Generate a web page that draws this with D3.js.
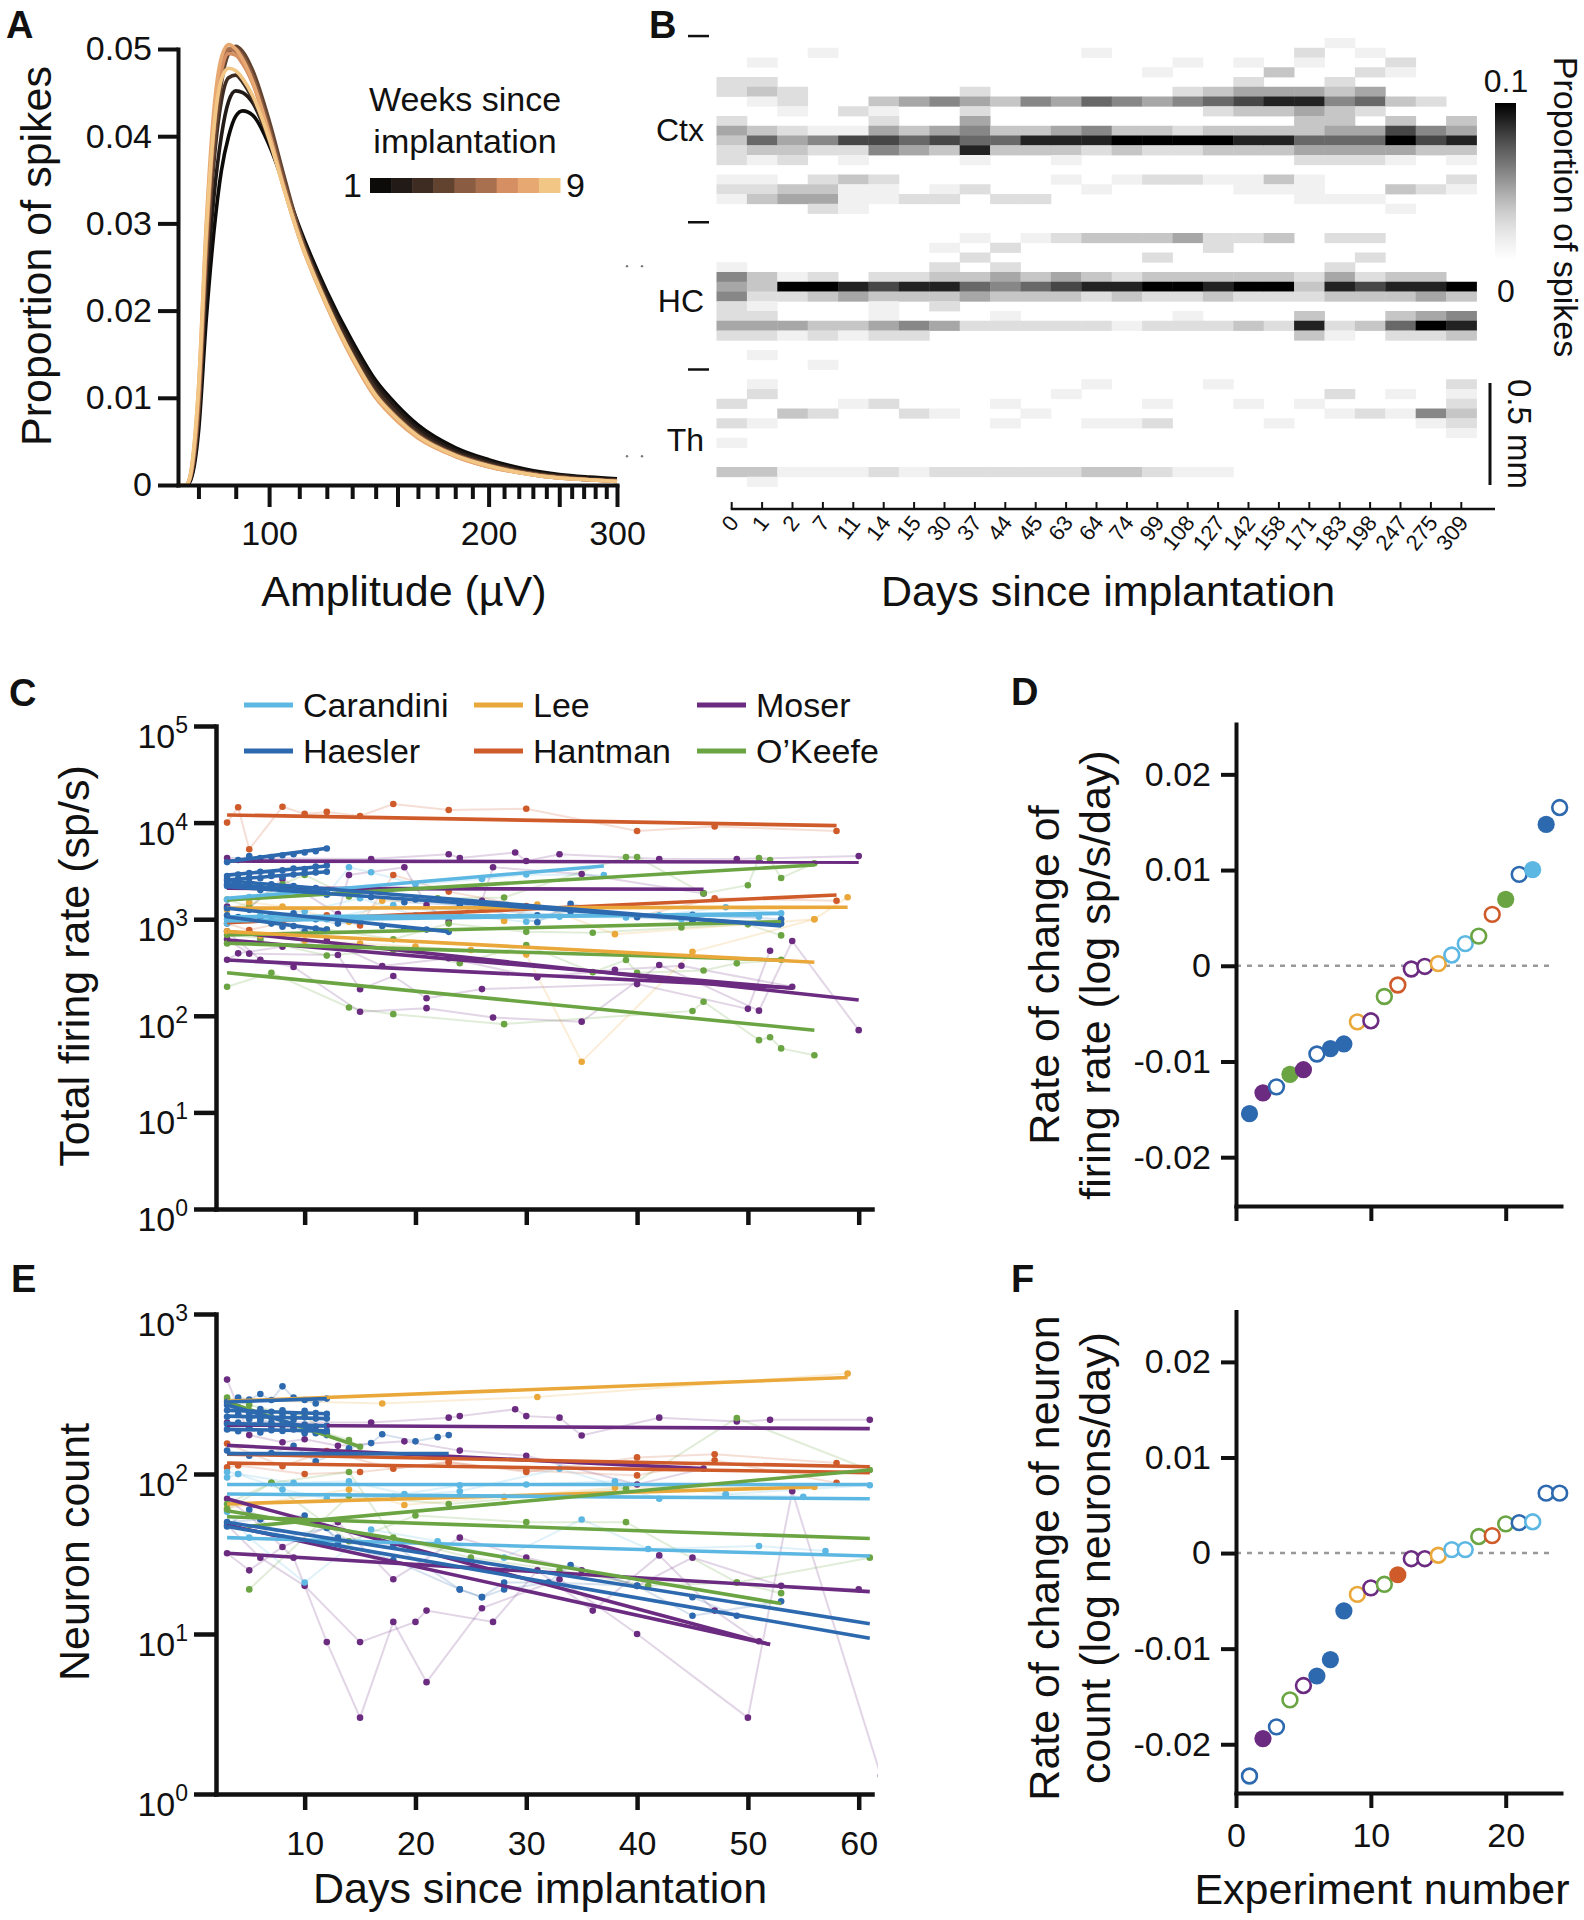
<!DOCTYPE html>
<html><head><meta charset="utf-8">
<script src="https://cdn.jsdelivr.net/npm/d3@7/dist/d3.min.js"></script>
<style>
html,body{margin:0;padding:0;background:#fff;}
svg text{font-family:"Liberation Sans",Arial,Helvetica,sans-serif;fill:#111;}
</style></head><body>
<svg id="fig" width="1584" height="1920" xmlns="http://www.w3.org/2000/svg"></svg>
<script>
// ================= DATA =================
// ---- Panel A: amplitude distributions per week ----
const ampBins = [75,77,78,80,82,84,86,88,90,92,95,100,105,110,120,130,140,150,160,180,200,225,250,275,300];
const week1 = [0,0,0.0005,0.006,0.019,0.029,0.036,0.040,0.0423,0.0429,0.0424,0.0390,0.0343,0.0296,0.0222,0.0165,0.0120,0.0091,0.0069,0.0043,0.0029,0.0018,0.0012,0.0009,0.0007];
const week2 = [0,0,0.0006,0.007,0.022,0.033,0.040,0.0440,0.0452,0.0450,0.0438,0.0395,0.0343,0.0293,0.0218,0.0160,0.0116,0.0087,0.0065,0.0040,0.0027,0.0016,0.0011,0.0008,0.0006];
const week3 = [0,0,0.0008,0.008,0.025,0.037,0.044,0.0467,0.0470,0.0462,0.0442,0.0395,0.0340,0.0290,0.0213,0.0155,0.0111,0.0082,0.0061,0.0037,0.0025,0.0015,0.0010,0.0007,0.0005];
const week4 = [0,0,0.0008,0.008,0.025,0.038,0.046,0.0495,0.0503,0.0497,0.0475,0.0418,0.0352,0.0292,0.0210,0.0150,0.0106,0.0078,0.0058,0.0035,0.0023,0.0014,0.0009,0.0006,0.0005];
const week5 = [0,0,0.0010,0.009,0.027,0.040,0.047,0.0500,0.0500,0.0492,0.0468,0.0410,0.0345,0.0288,0.0208,0.0148,0.0104,0.0077,0.0057,0.0035,0.0023,0.0014,0.0009,0.0006,0.0005];
const week6 = [0,0,0.0010,0.010,0.028,0.041,0.048,0.0500,0.0497,0.0487,0.0462,0.0405,0.0340,0.0285,0.0207,0.0147,0.0102,0.0075,0.0056,0.0034,0.0022,0.0013,0.0008,0.0006,0.0004];
const week7 = [0,0,0.0010,0.010,0.028,0.041,0.0475,0.0495,0.0493,0.0483,0.0460,0.0402,0.0338,0.0284,0.0206,0.0146,0.0101,0.0074,0.0055,0.0033,0.0021,0.0013,0.0008,0.0006,0.0004];
const week8 = [0,0,0.0012,0.011,0.030,0.043,0.049,0.0505,0.0500,0.0488,0.0462,0.0403,0.0338,0.0283,0.0205,0.0145,0.0100,0.0073,0.0054,0.0033,0.0021,0.0013,0.0008,0.0006,0.0004];
const week9 = [0,0,0.0012,0.011,0.029,0.041,0.0465,0.0478,0.0475,0.0466,0.0446,0.0397,0.0337,0.0284,0.0207,0.0148,0.0103,0.0076,0.0056,0.0034,0.0022,0.0013,0.0008,0.0006,0.0004];
const weekColors = ["#0d0b09","#211a16","#3e2c22","#614330","#8a5d43","#a8704f","#d58f63","#e8a872","#f2c786"];
const aYTicks = [0,0.01,0.02,0.03,0.04,0.05];
const aXTicks = [80,90,100,110,120,130,140,150,160,170,180,190,200,210,220,230,240,250,260,270,280,290,300];
const aXLabels = [100,200,300];
const aXMajor = [100,150,200,250,300];

// ---- Panel B: spike depth heatmap (each char = intensity level 0-9, one char per depth bin, top to bottom) ----
const bDays = ["0","1","2","7","11","14","15","30","37","44","45","63","64","74","99","108","127","142","158","171","183","198","247","275","309"];
const bHeat = [
"0000220024"+"3220121000"+"0001545224"+"2000000202"+"010030",
"0010231003"+"6310123000"+"0000332124"+"2010012001"+"000031",
"0000022102"+"4320034000"+"0000192004"+"1000000030"+"000010",
"0100000001"+"5200234200"+"0000293003"+"2001000020"+"000010",
"0000000201"+"7210311100"+"0000084003"+"1000000100"+"000010",
"0000003124"+"7500211000"+"0000273114"+"2000000200"+"000020",
"0000004003"+"6400002000"+"0000283005"+"2000000020"+"000010",
"0000005004"+"7300012000"+"0102383204"+"0000000010"+"000020",
"0000024245"+"6810020000"+"1020364002"+"0000000000"+"000020",
"0000003003"+"6300002000"+"0202453012"+"0000000101"+"000020",
"0000005003"+"8300002000"+"1000363002"+"0000000010"+"000020",
"0000004004"+"8310100000"+"2000473002"+"0000001000"+"000020",
"0100006005"+"8200010000"+"3000382002"+"0000010001"+"000030",
"0000005003"+"9300100000"+"3000283001"+"0000000001"+"000030",
"0001004003"+"9200200000"+"3020392002"+"0000000102"+"000020",
"0010025002"+"9200200000"+"4000392012"+"0000000000"+"000010",
"0000036203"+"9300100000"+"2200383002"+"0000010000"+"000010",
"0010247303"+"8300110000"+"2000392003"+"0000000100"+"000000",
"0003048303"+"8300310000"+"3000392002"+"0000000001"+"000000",
"0210048433"+"6420111000"+"0000232038"+"3000000100"+"000000",
"1000235334"+"6420001000"+"2002483002"+"1000002010"+"000000",
"0102046204"+"6420001000"+"2020273003"+"0000000020"+"000000",
"0021003037"+"9410030100"+"0000383036"+"2000001010"+"000000",
"0000002005"+"7300020000"+"0000384049"+"2000000051"+"000000",
"0000000034"+"8310210000"+"0000093058"+"3000021232"+"100000"
];
const bRegions = ["Ctx","HC","Th"];
const bRegionRows = [9.3, 26.9, 41.1];
const bBoundaryRows = [-0.2, 18.9, 34];
const bColorMax = 0.1;

// ---- Labs ----
const labNames = ["Carandini","Lee","Moser","Haesler","Hantman","O'Keefe"];
const labColors = ["#5db7e3","#eaa83a","#6b2b80","#2d69ae","#cf5b2b","#6ba543"];

// ---- Panel C: total firing rate per experiment ----
const frLab = ["Hantman","Hantman","Moser","Moser","Moser","Moser","Moser","O'Keefe","O'Keefe","O'Keefe","O'Keefe","Lee","Lee","Carandini","Carandini","Carandini","Haesler","Haesler","Haesler","Haesler","Haesler","Haesler","Haesler","Haesler"];
const frDays = [
[3,4,5,8,10,12,15,18,23,30,40,47,58],
[3,5,8,12,15,18,23,30,40,47,58],
[3,16,23,24,29,30,33,42,49,60],
[3,5,8,13,14,19,21,23,26,27,35,46],
[3,6,9,15,21,27,35,42,51,54,60],
[3,5,13,15,18,21,26,40,50,52],
[3,4,8,12,17,23,31,38,44,54],
[3,7,14,18,28,45,46,51,52,53,56],
[3,5,8,10,14,22,28,39,40,46,50,51,52,53,56],
[3,6,12,18,23,30,36,44,50,53],
[3,6,12,18,24,30,36,39,40,46,49,53],
[3,5,8,14,17,24,28,31,38,56,59],
[3,6,10,15,20,25,30,35,45,56],
[3,5,8,12,14,16,20,26,30,37],
[3,6,10,15,20,26,33,39,44,51],
[3,7,12,18,24,30,36,42,48,53],
[3,4,5,6,7,8,9,10,11,12],
[3,4,5,6,7,8,9,10,11,12],
[3,4,5,6,7,8,9,10,11,12],
[3,4,6,8,10,12,16,20,26,31,34,40,45,53],
[3,5,7,9,11,14,19,24,31,34,45,53],
[3,4,5,6,7,8,9,10,11,12],
[3,5,7,9,11,13,15,17,19,21,23],
[3,4,5,6,7,8,9,10,11,12]
];
const frVals = [
[10000,14400,5300,14600,12300,12900,11700,15600,13500,13900,8200,9100,8200],
[900,770,920,1100,860,2870,1930,1370,1060,1650,1550],
[4300,4200,4700,4300,4900,4000,4700,4200,4200,4500],
[1350,1300,2600,1130,2870,3450,1400,940,1550,3450,2940,1850],
[750,380,320,110,120,96,87,336,113,594,71],
[620,440,426,188,258,152,189,213,118,472],
[380,443,520,600,328,394,250,300,330,200],
[200,279,122,104,82,112,140,56,60,46,39],
[1600,1350,2300,2870,1720,1650,1680,4400,4400,1850,2250,4300,4100,2670,3800],
[690,640,780,620,900,740,725,820,885,680],
[560,600,420,480,350,540,283,378,279,294,349,380],
[1250,1500,1350,940,1550,1520,960,1420,700,1000,1690],
[750,680,600,560,520,480,430,33.5,460,1000],
[1600,1700,2100,1800,3450,3060,2300,2600,2900,2870],
[1000,1100,1200,1650,1100,1400,1060,1040,1000,1060],
[900,1050,1000,1400,1100,940,1200,1100,1330,1150],
[3900,4100,4500,4300,4400,4600,4700,4900,5050,5400],
[2800,2900,3000,3100,2950,3200,3350,3300,3500,3600],
[2500,2600,2700,2650,2800,2750,2900,3000,3050,3100],
[2200,2300,2000,2100,1900,1800,1700,1600,1300,930,1440,1050,1110,1000],
[2600,2400,2300,2200,2100,1900,1500,1400,1100,1200,950,900],
[1100,1050,980,1000,900,836,850,743,800,780],
[1300,1250,1100,1150,1000,900,950,850,800,780,740],
[2300,2250,2200,2150,2100,2050,2000,1950,1900,1900]
];
const frFit = [
[3,58,12000,9300],[3,58,920,1780],[3,60,4000,3900],[3,46,2090,2040],[3,60,745,146],[3,54,610,193],[3,54,378,195],
[3,56,279,71],[3,56,1580,3640],[3,53,686,942],[3,53,563,378],[3,59,1300,1330],[3,56,743,358],
[3,37,1645,3555],[3,51,1060,1105],[3,53,960,1150],
[3,12,3935,5420],[3,12,2860,3560],[3,12,2550,3100],[3,53,2170,870],[3,53,2500,850],[3,12,1060,773],[3,23,1300,743],[3,12,2300,1900]
];

// ---- Panel E: neuron count per experiment ----
const ncLab = ["Lee","Lee","Moser","Moser","Moser","Moser","Moser","Hantman","Hantman","Carandini","Carandini","Carandini","O'Keefe","O'Keefe","O'Keefe","O'Keefe","Haesler","Haesler","Haesler","Haesler","Haesler","Haesler","Haesler","Haesler","Haesler"];
const ncDays = [
[3,17,31,59],
[3,14,19,28,38,56],
[3,16,23,24,29,30,33,35,42,49,52,61],
[3,5,8,10,13,19,24,30,40,46],
[3,5,9,12,15,18,21,26,33,40,50,54,62],
[3,6,10,15,20,21,27,31,36,42,47,51],
[3,5,8,13,18,24,30,35,40,45,53,60],
[3,8,12,18,23,30,40,47,58],
[3,4,10,15,23,30,40,47,58],
[3,4,9,14,19,24,30,38,48,61],
[3,4,8,12,18,24,33,42,48,55],
[3,5,10,16,22,28,35,41,51,57],
[3,5,8,10,12,14,15],
[5,14,23,39,49,61],
[3,7,14,20,30,39,49,61],
[3,7,14,18,25,33,41,49,53],
[3,4,5,6,7,8,9,10,11,12],
[3,4,5,6,7,8,9,10,11,12],
[3,4,5,6,7,8,9,10,11,12],
[3,4,5,6,7,8,9,10,11,12],
[3,4,5,6,7,8,9,10,11,12],
[3,4,5,6,7,8,9,10,11,12],
[3,6,10,11,13,18,24,26,28,32,34,40,45,49],
[3,5,8,12,13,18,24,26,28,32,40,45,53],
[3,5,7,9,11,14,16,17,20,22,23]
];
const ncVals = [
[290,276,303,424],
[61,80,64,72,82,83],
[210,210,225,230,254,230,225,174,225,213,218,218],
[389,175,158,165,150,160,140,130,86,108],
[70,55,30,8.9,3.0,11.9,5.0,14.5,22,10,3.0,78,1.3],
[48,30,20,8.9,11.9,14,11.9,25,14,31,14,9],
[32,25,35,50,22,40,30,25,20,30,20,19],
[155,112,139,108,119,103,127,133,117],
[110,113,100,103,118,105,98,122,88],
[95,100,88,90,75,85,86,90,75,85],
[103,100,80,70,72,78,108,70,74,72],
[58,40,21,45,38,30,52,34,35.5,33],
[300,270,240,230,180,163,148],
[19,73,65,81,224,106],
[60,88,38,55,50,50,21,30],
[65,88,103,40,30,25,20,21,18],
[282,300,292,316,290,353,300,290,276,296],
[250,262,240,255,245,250,236,248,240,238],
[228,235,220,232,225,230,218,226,222,222],
[205,210,200,215,198,206,200,204,198,200],
[190,185,195,182,188,186,190,180,186,186],
[270,250,240,220,210,200,195,185,180,175],
[50,52,55,49,40,36,19,17,21,21,27,20,17,13],
[47,60,40,46,37,29,19,17,19,21,20,13,16],
[140,130,135,150,120,145,156,177,160,170,175]
];
const ncFit = [
[3,59,285,401],[3,56,65,83],[3,61,202,192],[3,46,151,108],[3,52,70,8.6],[3,52,48,8.6],[3,61,32,18.4],
[3,61,133,111],[3,61,117,102],[3,61,86,86],[3,61,75,70],[3,61,40,30.7],
[3,15,282,148],[4.8,61,47,106],[3,61,54,39.5],[3,53,59,15.5],
[3,12,282,296],[3,12,250,238],[3,12,230,222],[3,12,207,200],[3,12,190,186],[3,12,270,180],[3,61,50,11.6],[3,61,47,9.4],[3,23,134,134]
];
const cYTicks = [1,10,100,1000,10000,100000];
const eYTicks = [1,10,100,1000];
const dayTicks = [10,20,30,40,50,60];

// ---- Panels D & F: per-experiment rate of change (sorted) ----
const expNumber = [1,2,3,4,5,6,7,8,9,10,11,12,13,14,15,16,17,18,19,20,21,22,23,24];
const expLab = ["Haesler","Moser","Haesler","O'Keefe","Moser","Haesler","Haesler","Haesler","Lee","Moser","O'Keefe","Hantman","Moser","Moser","Lee","Carandini","Carandini","O'Keefe","Hantman","O'Keefe","Haesler","Carandini","Haesler","Haesler"];
const frRate = [-0.01545,-0.01328,-0.01265,-0.01134,-0.01086,-0.00922,-0.00866,-0.00817,-0.00586,-0.00575,-0.00321,-0.00201,-0.00034,-0.00007,0.00022,0.00112,0.00231,0.0031,0.00537,0.00694,0.00955,0.01004,0.01478,0.01653];
const frFilled = [1,1,0,1,1,0,1,1,0,0,0,0,0,0,0,0,0,0,0,1,0,1,1,0];
const ncRate = [-0.02332,-0.01941,-0.01818,-0.01536,-0.01386,-0.01286,-0.01114,-0.00605,-0.00432,-0.00364,-0.00327,-0.00227,-0.00059,-0.00059,-0.00023,0.00036,0.00036,0.00173,0.00182,0.00305,0.00318,0.00327,0.00627,0.00627];
const ncFilled = [0,1,0,0,0,1,1,1,0,0,0,1,0,0,0,0,0,0,0,0,0,0,0,0];
const rateTicks = [-0.02,-0.01,0,0.01,0.02];
const expTicks = [0,10,20];

// ================= DRAWING =================
const svg = d3.select("#fig");
const defs = svg.append("defs");
const INK = "#111";
const labColor = d3.scaleOrdinal().domain(labNames).range(labColors);

function styleAxis(sel, fs, w) {
  sel.attr("font-family", null).attr("font-size", fs);
  sel.select(".domain").attr("stroke", INK).attr("stroke-width", w).attr("stroke-linecap","square");
  sel.selectAll(".tick line").attr("stroke", INK).attr("stroke-width", w);
  sel.selectAll(".tick text").attr("fill", INK);
}
function letter(x, y, s) {
  svg.append("text").attr("x", x).attr("y", y).attr("font-size", 38).attr("font-weight", "bold").text(s);
}
function vtitle(x, y, s, fs, rot) {
  svg.append("text").attr("transform", `translate(${x},${y}) rotate(${rot||-90})`)
    .attr("text-anchor","middle").attr("font-size", fs).text(s);
}
function htitle(x, y, s, fs) {
  svg.append("text").attr("x", x).attr("y", y).attr("text-anchor","middle").attr("font-size", fs).text(s);
}

// ---------- Panel A ----------
letter(6, 38, "A");
{
  const g = svg.append("g");
  const x = d3.scaleLog().domain([75, 300]).range([178, 617]);
  const y = d3.scaleLinear().domain([0, 0.05]).range([485, 49]);
  const weeks = [week1,week2,week3,week4,week5,week6,week7,week8,week9];
  const line = d3.line().x((d,i)=>x(ampBins[i])).y(d=>y(d)).curve(d3.curveMonotoneX);
  weeks.forEach((w,k)=>{
    g.append("path").attr("d", line(w)).attr("fill","none").attr("stroke", weekColors[k])
      .attr("stroke-width", 3.6).attr("stroke-linejoin","round");
  });
  const ay = g.append("g").attr("transform","translate(178,0)")
    .call(d3.axisLeft(y).tickValues(aYTicks).tickSize(20).tickPadding(6).tickSizeOuter(0)
      .tickFormat(d => d === 0 ? "0" : d3.format(".2f")(d)));
  styleAxis(ay, 34, 4);
  const ax = g.append("g").attr("transform","translate(0,485)")
    .call(d3.axisBottom(x).tickValues(aXTicks).tickSize(14).tickPadding(22).tickSizeOuter(0)
      .tickFormat(d => aXLabels.includes(d) ? String(d) : ""));
  styleAxis(ax, 34, 4);
  ax.selectAll(".tick line").attr("y2", d => aXMajor.includes(d) ? 22 : 14);
  vtitle(51, 256, "Proportion of spikes", 43);
  htitle(404, 606, "Amplitude (µV)", 43);
  // legend
  htitle(465, 111, "Weeks since", 34);
  htitle(465, 153, "implantation", 34);
  const cb = d3.scaleBand().domain(d3.range(weekColors.length)).range([370, 560]);
  g.selectAll("rect.cb").data(weekColors).join("rect").attr("class","cb")
    .attr("x", (d,i)=>cb(i)).attr("y", 178).attr("width", cb.bandwidth()+0.5).attr("height", 15).attr("fill", d=>d);
  g.append("text").attr("x", 362).attr("y", 197).attr("text-anchor","end").attr("font-size",34).text("1");
  g.append("text").attr("x", 566).attr("y", 197).attr("font-size",34).text("9");
}

// ---------- Panel B ----------
letter(649, 38, "B");
{
  const g = svg.append("g");
  const x = d3.scaleBand().domain(bDays).range([716.5, 1476.5]);
  const nRows = bHeat[0].length;
  const y = d3.scaleLinear().domain([0, nRows]).range([38, 486.5]);
  const c = d3.scaleSequential(d3.interpolateGreys).domain([0, bColorMax]);
  const cells = [];
  bHeat.forEach((col, ci) => {
    for (let r = 0; r < col.length; r++) {
      const lv = +col[r];
      if (lv > 0) cells.push({day: bDays[ci], row: r, v: lv / 9 * bColorMax});
    }
  });
  g.selectAll("rect.cell").data(cells).join("rect").attr("class","cell")
    .attr("x", d => x(d.day)).attr("y", d => y(d.row))
    .attr("width", x.bandwidth() + 0.4).attr("height", y(1) - y(0) + 0.4)
    .attr("fill", d => c(d.v));
  bRegions.forEach((s,i)=>{
    g.append("text").attr("x", 704).attr("y", y(bRegionRows[i]) + 12).attr("text-anchor","end").attr("font-size",32).text(s);
  });
  bBoundaryRows.forEach(r=>{
    g.append("line").attr("x1", 688).attr("x2", 709).attr("y1", y(r)).attr("y2", y(r)).attr("stroke", INK).attr("stroke-width", 2.5);
  });
  [y(23.4), y(42.9)].forEach(yy=>{
    [627, 642].forEach(xx => g.append("circle").attr("cx", xx).attr("cy", yy).attr("r", 1.2).attr("fill", "#777"));
  });
  const axY = 509;
  const ax = g.append("g").attr("transform", `translate(0,${axY})`)
    .call(d3.axisTop(x).tickSize(7).tickFormat(""));
  ax.select(".domain").remove();
  ax.selectAll(".tick line").attr("stroke", INK).attr("stroke-width", 2);
  g.append("line").attr("x1", x(bDays[0]) + x.bandwidth()/2 - 1).attr("x2", 1495).attr("y1", axY).attr("y2", axY)
    .attr("stroke", INK).attr("stroke-width", 2.5);
  g.selectAll("text.dlab").data(bDays).join("text").attr("class","dlab")
    .attr("transform", d => `translate(${x(d) + x.bandwidth()/2 + 8},${axY + 14}) rotate(-52)`)
    .attr("text-anchor","end").attr("font-size", 22).text(d => d);
  htitle(1108, 606, "Days since implantation", 43);
  const grad = defs.append("linearGradient").attr("id","gbar").attr("x1",0).attr("x2",0).attr("y1",1).attr("y2",0);
  d3.range(0, 1.001, 0.1).forEach(t => grad.append("stop").attr("offset", t).attr("stop-color", c(t * bColorMax)));
  g.append("rect").attr("x", 1495).attr("y", 103).attr("width", 21).attr("height", 157).attr("fill","url(#gbar)");
  g.append("text").attr("x", 1506).attr("y", 92).attr("text-anchor","middle").attr("font-size",32).text("0.1");
  g.append("text").attr("x", 1506).attr("y", 302).attr("text-anchor","middle").attr("font-size",32).text("0");
  vtitle(1554, 207, "Proportion of spikes", 34, 90);
  g.append("line").attr("x1", 1490).attr("x2", 1490).attr("y1", 383).attr("y2", 485).attr("stroke", INK).attr("stroke-width", 3);
  vtitle(1508, 434, "0.5 mm", 33, 90);
}

// ---------- Panels C & E ----------
function timePanel(top, bottom, yDomain, yTicks, labs, days, vals, fits, showXLabels) {
  const g = svg.append("g");
  const x = d3.scaleLinear().domain([2, 61.2]).range([216, 872]);
  const y = d3.scaleLog().domain(yDomain).range([bottom, top]);
  const clipId = "clip" + top;
  defs.append("clipPath").attr("id", clipId).append("rect")
    .attr("x", 218).attr("y", top - 5).attr("width", 660).attr("height", bottom - top + 3);
  const pg = g.append("g").attr("clip-path", `url(#${clipId})`);
  const line = d3.line().x(d=>x(d[0])).y(d=>y(d[1]));
  labs.forEach((lab,i)=>{
    const pts = days[i].map((d,j)=>[d, vals[i][j]]);
    pg.append("path").attr("d", line(pts)).attr("fill","none").attr("stroke", labColor(lab))
      .attr("stroke-opacity", 0.2).attr("stroke-width", 2);
  });
  labs.forEach((lab,i)=>{
    const pts = days[i].map((d,j)=>[d, vals[i][j]]);
    pg.selectAll(null).data(pts).join("circle").attr("cx", d=>x(d[0])).attr("cy", d=>y(d[1]))
      .attr("r", 3.3).attr("fill", labColor(lab));
  });
  labs.forEach((lab,i)=>{
    const f = fits[i];
    pg.append("path").attr("d", line([[f[0],f[2]],[f[1],f[3]]])).attr("fill","none")
      .attr("stroke", labColor(lab)).attr("stroke-width", 3.6);
  });
  const ay = g.append("g").attr("transform","translate(216,0)")
    .call(d3.axisLeft(y).tickValues(yTicks).tickSize(22).tickSizeOuter(0).tickFormat(""));
  styleAxis(ay, 34, 4.5);
  yTicks.forEach(v=>{
    const t = g.append("text").attr("x", 188).attr("y", y(v) + 22).attr("text-anchor","end").attr("font-size", 34);
    t.append("tspan").text("10");
    t.append("tspan").attr("dy", -15).attr("font-size", 23).text(Math.round(Math.log10(v)));
  });
  const ax = g.append("g").attr("transform", `translate(0,${bottom})`)
    .call(d3.axisBottom(x).tickValues(dayTicks).tickSize(16).tickPadding(21).tickSizeOuter(0)
      .tickFormat(showXLabels ? d3.format("d") : ""));
  styleAxis(ax, 34, 4.5);
  return g;
}
letter(9, 706, "C");
timePanel(726, 1209, [1, 1e5], cYTicks, frLab, frDays, frVals, frFit, false);
vtitle(89, 966, "Total firing rate (sp/s)", 43);
{
  const colX = [244, 474, 697];
  const rowY = [705, 751];
  labNames.forEach((lab,i)=>{
    const cx = colX[i % 3], cy = rowY[Math.floor(i / 3)];
    svg.append("line").attr("x1", cx).attr("x2", cx + 49).attr("y1", cy).attr("y2", cy)
      .attr("stroke", labColor(lab)).attr("stroke-width", 5);
    svg.append("text").attr("x", cx + 59).attr("y", cy + 12).attr("font-size", 34).text(lab === "O'Keefe" ? "O\u2019Keefe" : lab);
  });
}
letter(11, 1292, "E");
timePanel(1314, 1794, [1, 1e3], eYTicks, ncLab, ncDays, ncVals, ncFit, true);
vtitle(89, 1552, "Neuron count", 43);
htitle(540, 1903, "Days since implantation", 43);

// ---------- Panels D & F ----------
function ratePanel(top, bottom, rates, filled, showXLabels) {
  const g = svg.append("g");
  const x = d3.scaleLinear().domain([0, 24.1]).range([1236, 1561]);
  const y = d3.scaleLinear().domain([-0.0251, 0.02526]).range([bottom, top]);
  g.append("line").attr("x1", x(0)).attr("x2", x(23.6)).attr("y1", y(0)).attr("y2", y(0))
    .attr("stroke", "#999").attr("stroke-width", 2.5).attr("stroke-dasharray", "5,6");
  const ay = g.append("g").attr("transform", "translate(1236,0)")
    .call(d3.axisLeft(y).tickValues(rateTicks).tickSize(15).tickPadding(10).tickSizeOuter(0)
      .tickFormat(d => d === 0 ? "0" : d3.format(".2f")(d).replace("−","-")));
  styleAxis(ay, 34, 4);
  const ax = g.append("g").attr("transform", `translate(0,${bottom})`)
    .call(d3.axisBottom(x).tickValues(expTicks).tickSize(15).tickPadding(15).tickSizeOuter(0)
      .tickFormat(showXLabels ? d3.format("d") : ""));
  styleAxis(ax, 34, 4);
  const pts = expNumber.map((n,i)=>({n, r: rates[i], lab: expLab[i], f: filled[i]}));
  g.selectAll("circle.pt").data(pts).join("circle").attr("class","pt")
    .attr("cx", d=>x(d.n)).attr("cy", d=>y(d.r))
    .attr("r", d => d.f ? 8.6 : 7.4)
    .attr("fill", d => d.f ? labColor(d.lab) : "#fff")
    .attr("stroke", d => d.f ? "none" : labColor(d.lab))
    .attr("stroke-width", 2.6);
  return g;
}
letter(1011, 705, "D");
ratePanel(724, 1206, frRate, frFilled, false);
svg.append("text").attr("transform","translate(1059,975) rotate(-90)").attr("text-anchor","middle").attr("font-size",43).text("Rate of change of");
svg.append("text").attr("transform","translate(1110,975) rotate(-90)").attr("text-anchor","middle").attr("font-size",43).text("firing rate (log sp/s/day)");
letter(1011, 1292, "F");
ratePanel(1311.6, 1793, ncRate, ncFilled, true);
svg.append("text").attr("transform","translate(1059,1558) rotate(-90)").attr("text-anchor","middle").attr("font-size",43).text("Rate of change of neuron");
svg.append("text").attr("transform","translate(1110,1558) rotate(-90)").attr("text-anchor","middle").attr("font-size",43).text("count (log neurons/day)");
htitle(1382, 1904, "Experiment number", 43);
</script>
</body></html>
